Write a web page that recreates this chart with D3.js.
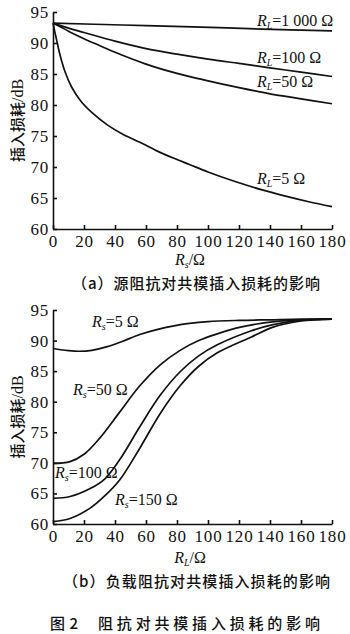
<!DOCTYPE html>
<html>
<head>
<meta charset="utf-8">
<script src="https://cdn.jsdelivr.net/npm/d3@7"></script>
<style>
  body { margin: 0; background: #fff; }
  svg { display: block; }
  .tick text { font-family: "Liberation Serif", serif; font-size: 17px; letter-spacing: 0.8px; fill: #111; }
  .tick line, .domain { stroke: #111; stroke-width: 1.6px; }
  .curve { fill: none; stroke: #111; stroke-width: 1.7px; }
  .lab { font-family: "Liberation Serif", serif; font-size: 16px; fill: #111; }
  .cjk { font-family: "Noto Sans CJK SC", sans-serif; font-size: 15px; font-weight: 500; fill: #111; }
</style>
</head>
<body>
<svg id="fig" width="350" height="634"></svg>
<script>
// tick values shared by both panels
var xTicks = [0, 20, 40, 60, 80, 100, 120, 140, 160, 180];
var yTicks = [60, 65, 70, 75, 80, 85, 90, 95];

// (a) loss vs source resistance Rs, one curve per load RL  [Rs, dB]
var rlNames = ["1 000", "100", "50", "5"];
var lossRL1000 = [[0, 93.2], [45, 92.9], [90, 92.6], [135, 92.25], [180, 91.95]];
var lossRL100 = [[0, 93.2], [10, 92.4], [20, 91.7], [40, 90.3], [60, 89.1], [80, 88.2], [100, 87.4],
  [120, 86.7], [140, 86.0], [160, 85.3], [180, 84.6]];
var lossRL50 = [[0, 93.2], [5, 92.6], [10, 91.9], [20, 90.7], [30, 89.6], [40, 88.5], [60, 86.6],
  [80, 85.1], [100, 83.9], [120, 82.8], [140, 81.8], [160, 81.0], [180, 80.2]];
var lossRL5 = [[0, 93.2], [1, 92.0], [2.5, 90.3], [4.5, 88.1], [7.7, 85.4], [12, 82.9], [18, 80.6],
  [25, 78.8], [35, 76.8], [45, 75.3], [56, 74.0], [67, 72.6], [78, 71.4], [88, 70.4], [100, 69.2],
  [117, 67.7], [135, 66.3], [150, 65.3], [165, 64.4], [180, 63.6]];

// (b) loss vs load resistance RL, one curve per source Rs  [RL, dB]
var rsNames = ["5", "50", "100", "150"];
var lossRs5 = [[0, 88.7], [5, 88.5], [10, 88.35], [17, 88.25], [25, 88.4], [35, 89.0], [45, 89.9],
  [56, 91.0], [67, 91.8], [78, 92.4], [88, 92.8], [100, 93.1], [120, 93.3], [140, 93.4], [160, 93.5], [180, 93.5]];
var lossRs50 = [[0, 69.9], [11, 70.2], [20, 71.4], [30, 74.0], [43, 78.3], [56, 82.6], [69, 86.0],
  [82, 88.4], [94, 90.0], [106, 91.1], [121, 92.2], [143, 93.1], [160, 93.4], [180, 93.5]];
var lossRs100 = [[0, 64.2], [11, 64.5], [24, 65.8], [33.5, 67.4], [43, 70.5], [56, 75.9], [69, 81.0],
  [82, 84.9], [94, 87.5], [106, 89.3], [128, 91.6], [142, 92.6], [160, 93.3], [180, 93.5]];
var lossRs150 = [[0, 60.4], [11, 60.9], [24, 62.6], [33, 64.5], [43, 67.2], [56, 72.4], [69, 78.0],
  [82, 82.6], [94, 85.8], [106, 88.0], [128, 90.6], [142, 92.2], [160, 93.2], [180, 93.5]];

var svg = d3.select("#fig");
var x = d3.scaleLinear().domain([0, 180]).range([53, 332]);

function panel(y0, y1, series, labels, sub, xTitleY) {
  var y = d3.scaleLinear().domain([60, 95]).range([y0, y1]);
  var g = svg.append("g");

  g.append("g")
    .attr("transform", "translate(0," + y0 + ")")
    .call(d3.axisBottom(x).tickValues(xTicks).tickSize(-4).tickSizeOuter(0).tickPadding(6));
  g.append("g")
    .attr("transform", "translate(53,0)")
    .call(d3.axisLeft(y).tickValues(yTicks).tickSize(-4).tickSizeOuter(0).tickPadding(4));

  var line = d3.line()
    .x(function (d) { return x(d[0]); })
    .y(function (d) { return y(d[1]); })
    .curve(d3.curveCatmullRom.alpha(0.5));

  g.selectAll("path.curve")
    .data(series)
    .enter().append("path")
    .attr("class", "curve")
    .attr("d", line);

  // curve labels like  R_L=100 Ω
  labels.forEach(function (l) {
    var t = g.append("text").attr("class", "lab").attr("x", l.x).attr("y", l.y);
    t.append("tspan").attr("font-style", "italic").text("R");
    t.append("tspan").attr("font-style", "italic").attr("font-size", "10px").attr("dy", 3).text(sub);
    t.append("tspan").attr("dy", -3).text("=" + l.name + " Ω");
  });

  // axis titles
  var xt = g.append("text").attr("class", "lab").attr("x", 190).attr("y", xTitleY)
    .attr("text-anchor", "middle").attr("font-size", "17px");
  xt.append("tspan").attr("font-style", "italic").text("R");
  xt.append("tspan").attr("font-style", "italic").attr("font-size", "10px").attr("dy", 3).text(sub === "L" ? "s" : "L");
  xt.append("tspan").attr("dy", -3).text("/Ω");

  var yt = g.append("text")
    .attr("transform", "translate(23," + ((y0 + y1) / 2) + ") rotate(-90)")
    .attr("text-anchor", "middle");
  yt.append("tspan").attr("class", "cjk").text("插入损耗");
  yt.append("tspan").attr("class", "lab").attr("font-size", "16px").text("/dB");
}

panel(229, 12, [lossRL1000, lossRL100, lossRL50, lossRL5], [
  { name: rlNames[0], x: 257, y: 26 },
  { name: rlNames[1], x: 257, y: 63 },
  { name: rlNames[2], x: 257, y: 87 },
  { name: rlNames[3], x: 257, y: 184 }
], "L", 265);

panel(524, 310, [lossRs5, lossRs50, lossRs100, lossRs150], [
  { name: rsNames[0], x: 92, y: 327 },
  { name: rsNames[1], x: 73, y: 395 },
  { name: rsNames[2], x: 55, y: 478 },
  { name: rsNames[3], x: 115, y: 505 }
], "s", 563);

// captions
svg.append("text").attr("class", "cjk").attr("x", 72).attr("y", 289)
  .attr("textLength", 248).attr("lengthAdjust", "spacing")
  .text("（a）源阻抗对共模插入损耗的影响");
svg.append("text").attr("class", "cjk").attr("x", 63).attr("y", 587)
  .attr("textLength", 267).attr("lengthAdjust", "spacing")
  .text("（b）负载阻抗对共模插入损耗的影响");
svg.append("text").attr("class", "cjk").attr("x", 50).attr("y", 629)
  .attr("font-weight", "bold").attr("textLength", 28).attr("lengthAdjust", "spacing")
  .text("图 2");
svg.append("text").attr("class", "cjk").attr("x", 98).attr("y", 629)
  .attr("textLength", 222).attr("lengthAdjust", "spacing")
  .text("阻抗对共模插入损耗的影响");
</script>
</body>
</html>
